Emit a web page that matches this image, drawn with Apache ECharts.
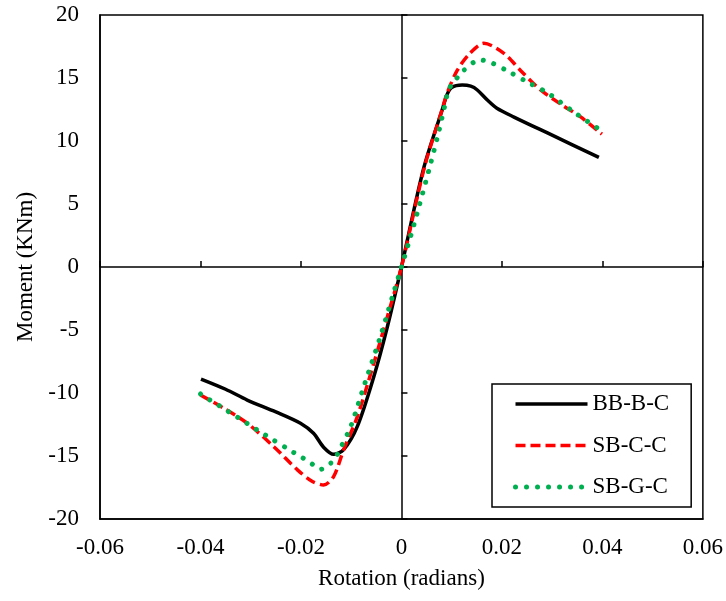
<!DOCTYPE html>
<html>
<head>
<meta charset="utf-8">
<script src="https://cdn.jsdelivr.net/npm/echarts@6/dist/echarts.min.js"></script>
<style>
  html, body { margin: 0; padding: 0; background: #fff; }
  #chart { width: 726px; height: 601px; }
</style>
</head>
<body>
<div id="chart"></div>
<script>
// ---- data ----
const seriesNames = ['BB-B-C', 'SB-C-C', 'SB-G-C'];

const bbX = [-0.0399, -0.035, -0.0307, -0.025, -0.0201, -0.0175, -0.0155, -0.0135, -0.0115, -0.0088, -0.0055, -0.0028, 0, 0.0044, 0.0081, 0.0091, 0.0100, 0.0121, 0.0138, 0.0151, 0.0171, 0.019, 0.0224, 0.030, 0.0393];
const bbY = [-8.89, -9.7, -10.56, -11.5, -12.4, -13.2, -14.3, -14.87, -14.5, -12.67, -8.7, -4.74, 0, 7.8, 12.46, 13.7, 14.25, 14.44, 14.35, 14.05, 13.25, 12.6, 11.9, 10.46, 8.7];

const scX = [-0.04, -0.0354, -0.0307, -0.0254, -0.0207, -0.0178, -0.0155, -0.0135, -0.0115, -0.0088, -0.0055, -0.0028, 0, 0.0045, 0.0081, 0.0091, 0.0111, 0.0135, 0.0164, 0.0204, 0.0237, 0.0277, 0.032, 0.0356, 0.0399];
const scY = [-10.16, -11.2, -12.4, -14.26, -16.1, -17.0, -17.3, -16.64, -14.5, -11.9, -7.64, -3.94, 0, 7.8, 12.5, 13.8, 15.6, 16.9, 17.75, 16.96, 15.6, 14.05, 12.85, 11.93, 10.55];

const sgX = [-0.04, -0.0344, -0.0271, -0.0214, -0.0198, -0.0178, -0.0161, -0.0141, -0.0128, -0.0118, -0.0101, -0.0075, -0.0042, -0.0015, 0, 0.0018, 0.0035, 0.0058, 0.0074, 0.0088, 0.0094, 0.0107, 0.0121, 0.0156, 0.0177, 0.0216, 0.0253, 0.0292, 0.0343, 0.0399];
const sgY = [-10.08, -11.48, -13.33, -14.73, -15.1, -15.63, -16.06, -15.58, -14.9, -14.1, -12.67, -9.5, -5.53, -1.96, 0, 2.4, 4.8, 8.2, 10.7, 13.1, 14.1, 14.8, 15.5, 16.43, 16.25, 15.45, 14.63, 13.79, 12.3, 10.8];

const xTickLabels = ['-0.06', '-0.04', '-0.02', '0', '0.02', '0.04', '0.06'];
const yTickLabels = ['-20', '-15', '-10', '-5', '0', '5', '10', '15', '20'];
const xTitle = 'Rotation (radians)';
const yTitle = 'Moment (KNm)';

// ---- chart ----
const FONT = "'Liberation Serif', 'Times New Roman', serif";
const pairs = (xs, ys) => xs.map((x, i) => [x, ys[i]]);
const xMin = -0.06, xMax = 0.06, xStep = 0.02;
const yMin = -20, yMax = 20, yStep = 5;

const xLabelFmt = v => xTickLabels[Math.round((v - xMin) / xStep)] ?? '';
const yLabelFmt = v => yTickLabels[Math.round((v - yMin) / yStep)] ?? '';

const styles = [
  { color: '#000000', width: 3.5, type: 'solid', cap: 'butt' },
  { color: '#ff0000', width: 3.5, type: [10, 5], cap: 'butt' },
  { color: '#00b050', width: 5, type: [0.01, 11], cap: 'round' }
];

const chart = echarts.init(document.getElementById('chart'), null, { renderer: 'canvas' });
chart.setOption({
  animation: false,
  backgroundColor: '#fff',
  grid: {
    left: 100, right: 23, top: 15, bottom: 82,
    show: true, borderColor: '#000', borderWidth: 1.5, backgroundColor: 'transparent'
  },
  legend: {
    orient: 'vertical',
    left: 492, top: 384,
    padding: [8, 22, 8, 21],
    borderColor: '#000', borderWidth: 1.5,
    backgroundColor: '#fff',
    itemWidth: 72, itemHeight: 24, itemGap: 17.5,
    itemStyle: { opacity: 0 },
    textStyle: { fontFamily: FONT, fontSize: 23, color: '#000', lineHeight: 24 },
    data: seriesNames.map((n, i) => ({ name: n, lineStyle: Object.assign({}, styles[i]), itemStyle: { opacity: 0 } }))
  },
  xAxis: [
    {
      type: 'value', min: xMin, max: xMax, interval: xStep, position: 'bottom',
      axisLine: { show: true, onZero: false, lineStyle: { color: '#000', width: 1.5 } },
      axisTick: { show: false },
      splitLine: { show: false },
      axisLabel: { formatter: xLabelFmt, fontFamily: FONT, fontSize: 23, color: '#000', margin: 17 },
      name: xTitle, nameLocation: 'middle', nameGap: 48,
      nameTextStyle: { fontFamily: FONT, fontSize: 23, color: '#000' }
    },
    {
      type: 'value', min: xMin, max: xMax, interval: xStep, position: 'bottom',
      axisLine: { show: true, onZero: true, lineStyle: { color: '#000', width: 1.5 } },
      axisTick: { show: true, inside: true, length: 6, lineStyle: { color: '#000', width: 1.5 } },
      splitLine: { show: false },
      axisLabel: { show: false }
    }
  ],
  yAxis: [
    {
      type: 'value', min: yMin, max: yMax, interval: yStep, position: 'left',
      axisLine: { show: true, onZero: false, lineStyle: { color: '#000', width: 1.5 } },
      axisTick: { show: false },
      splitLine: { show: false },
      axisLabel: { formatter: yLabelFmt, fontFamily: FONT, fontSize: 23, color: '#000', margin: 21 },
      name: yTitle, nameLocation: 'middle', nameGap: 58, nameRotate: 90,
      nameTextStyle: { fontFamily: FONT, fontSize: 23, color: '#000' }
    },
    {
      type: 'value', min: yMin, max: yMax, interval: yStep, position: 'left',
      axisLine: { show: true, onZero: true, lineStyle: { color: '#000', width: 1.5 } },
      axisTick: { show: true, inside: true, length: 6, lineStyle: { color: '#000', width: 1.5 } },
      splitLine: { show: false },
      axisLabel: { show: false }
    }
  ],
  series: [
    { xs: bbX, ys: bbY }, { xs: scX, ys: scY }, { xs: sgX, ys: sgY }
  ].map((d, i) => ({
    name: seriesNames[i], type: 'line', xAxisIndex: 0, yAxisIndex: 0,
    data: pairs(d.xs, d.ys), symbol: 'none', smooth: 0.3,
    lineStyle: Object.assign({}, styles[i]),
    itemStyle: { color: styles[i].color }, z: 3 + i
  }))
});
</script>
</body>
</html>
